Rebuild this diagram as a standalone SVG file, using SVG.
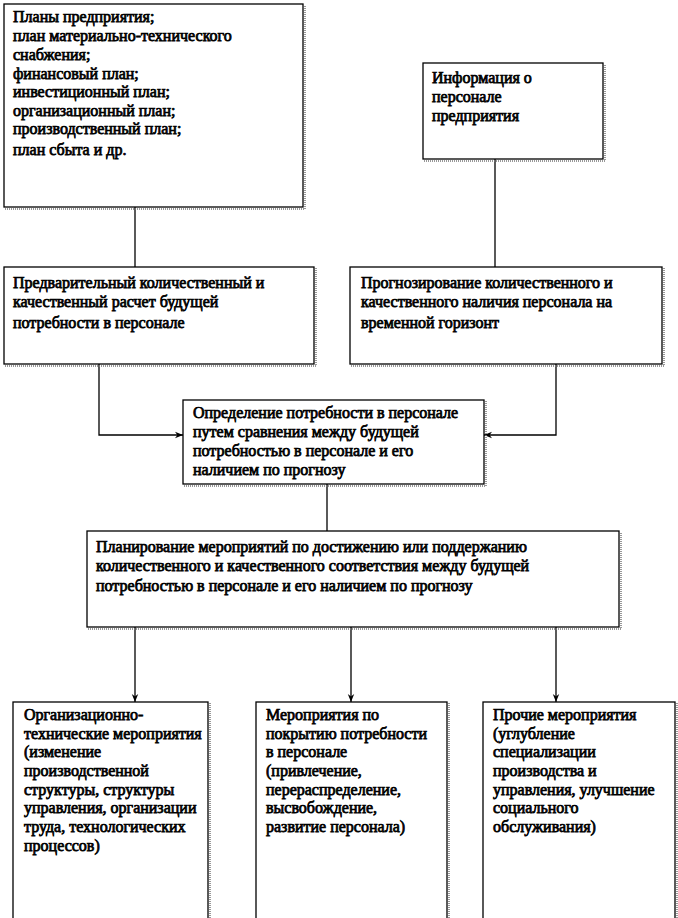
<svg xmlns="http://www.w3.org/2000/svg" width="678" height="918" viewBox="0 0 678 918">
<defs>
<marker id="ah" viewBox="0 0 10 10" refX="10" refY="5" markerWidth="8" markerHeight="8" markerUnits="userSpaceOnUse" orient="auto">
<path d="M0,1 L10,5 L0,9 L3,5 Z" fill="#000"/>
</marker>
</defs>
<style>
.box{fill:#fff;stroke:#000;stroke-width:1.3}
.sh{fill:none;stroke:#777;stroke-width:1.5;stroke-dasharray:1 1}
.t{font-family:'Liberation Serif','Times New Roman',serif;font-size:16px;fill:#000;stroke:#000;stroke-width:0.75}
.c{fill:none;stroke:#000;stroke-width:1.3}
</style>
<rect width="678" height="918" fill="#fff"/>
<g id="connectors">
<line class="c" x1="135" y1="207" x2="135" y2="267"/>
<line class="c" x1="495" y1="159" x2="495" y2="267"/>
<polyline class="c" points="99,364 99,435 183,435" marker-end="url(#ah)"/>
<polyline class="c" points="556,364 556,435 484,435" marker-end="url(#ah)"/>
<line class="c" x1="327" y1="484" x2="327" y2="531"/>
<line class="c" x1="135" y1="627" x2="135" y2="702" marker-end="url(#ah)"/>
<line class="c" x1="351" y1="627" x2="351" y2="702" marker-end="url(#ah)"/>
<line class="c" x1="556" y1="627" x2="556" y2="702" marker-end="url(#ah)"/>
</g>
<g id="n1">
<polyline class="sh" points="5,209 305,209 305,5"/>
<rect class="box" x="4" y="4" width="299" height="203"/>
<text class="t"><tspan x="13" y="22">Планы предприятия;</tspan><tspan x="13" y="41">план материально-технического</tspan><tspan x="13" y="60">снабжения;</tspan><tspan x="13" y="79">финансовый план;</tspan><tspan x="13" y="97">инвестиционный план;</tspan><tspan x="13" y="116">организационный план;</tspan><tspan x="13" y="134">производственный план;</tspan><tspan x="13" y="155">план сбыта и др.</tspan></text>
</g>
<g id="n2">
<polyline class="sh" points="424,161 605,161 605,64"/>
<rect class="box" x="423" y="63" width="180" height="96"/>
<text class="t"><tspan x="432" y="83">Информация о</tspan><tspan x="432" y="102">персонале</tspan><tspan x="432" y="121">предприятия</tspan></text>
</g>
<g id="n3">
<polyline class="sh" points="5,366 316,366 316,268"/>
<rect class="box" x="4" y="267" width="310" height="97"/>
<text class="t"><tspan x="13" y="288">Предварительный количественный и</tspan><tspan x="13" y="307">качественный расчет  будущей</tspan><tspan x="13" y="328">потребности в персонале</tspan></text>
</g>
<g id="n4">
<polyline class="sh" points="351,366 664,366 664,268"/>
<rect class="box" x="350" y="267" width="312" height="97"/>
<text class="t"><tspan x="361" y="288">Прогнозирование количественного и</tspan><tspan x="361" y="307">качественного  наличия персонала на</tspan><tspan x="361" y="328">временной горизонт</tspan></text>
</g>
<g id="n5">
<polyline class="sh" points="184,486 486,486 486,401"/>
<rect class="box" x="183" y="400" width="301" height="84"/>
<text class="t"><tspan x="193" y="418">Определение потребности в персонале</tspan><tspan x="193" y="437">путем  сравнения между будущей</tspan><tspan x="193" y="456">потребностью в персонале и его</tspan><tspan x="193" y="475">наличием по прогнозу</tspan></text>
</g>
<g id="n6">
<polyline class="sh" points="88,629 621,629 621,532"/>
<rect class="box" x="87" y="531" width="532" height="96"/>
<text class="t"><tspan x="96" y="552">Планирование мероприятий по достижению или поддержанию</tspan><tspan x="96" y="571">количественного и качественного соответствия между  будущей</tspan><tspan x="96" y="591">потребностью в персонале и его  наличием по прогнозу</tspan></text>
</g>
<g id="n7">
<polyline class="sh" points="210,703 210,918"/>
<rect class="box" x="13" y="702" width="195" height="230"/>
<text class="t"><tspan x="24" y="720">Организационно-</tspan><tspan x="24" y="739">технические  мероприятия</tspan><tspan x="24" y="757">(изменение</tspan><tspan x="24" y="776">производственной</tspan><tspan x="24" y="795">структуры,  структуры</tspan><tspan x="24" y="813">управления, организации</tspan><tspan x="24" y="832">труда, технологических</tspan><tspan x="24" y="851">процессов)</tspan></text>
</g>
<g id="n8">
<polyline class="sh" points="449,703 449,918"/>
<rect class="box" x="256" y="702" width="191" height="230"/>
<text class="t"><tspan x="266" y="720">Мероприятия по</tspan><tspan x="266" y="739">покрытию потребности</tspan><tspan x="266" y="757">в персонале</tspan><tspan x="266" y="776">(привлечение,</tspan><tspan x="266" y="795">перераспределение,</tspan><tspan x="266" y="813">высвобождение,</tspan><tspan x="266" y="832">развитие персонала)</tspan></text>
</g>
<g id="n9">
<polyline class="sh" points="677,703 677,918"/>
<rect class="box" x="483" y="702" width="192" height="230"/>
<text class="t"><tspan x="493" y="720">Прочие мероприятия</tspan><tspan x="493" y="739">(углубление</tspan><tspan x="493" y="757">специализации</tspan><tspan x="493" y="776">производства и</tspan><tspan x="493" y="795">управления, улучшение</tspan><tspan x="493" y="813">социального</tspan><tspan x="493" y="832">обслуживания)</tspan></text>
</g>
</svg>
